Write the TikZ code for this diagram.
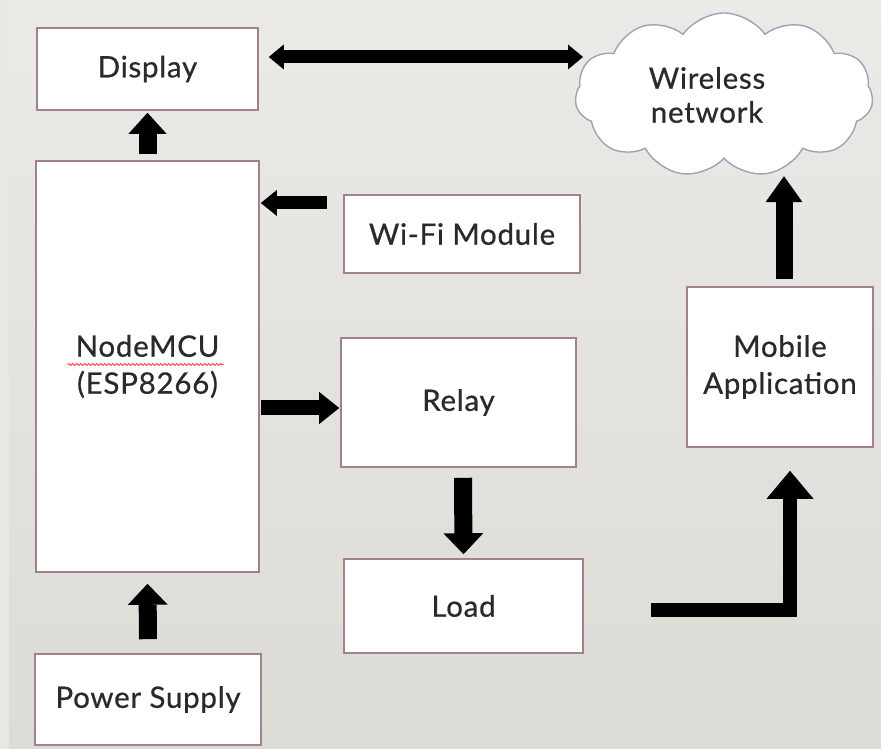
\documentclass[tikz,border=0pt]{standalone}
\usepackage{fontspec}
\setmainfont{Lato}
\newfontfamily\boxfont{Lato}[FakeBold=0.6,LetterSpace=2.5]
\usetikzlibrary{arrows.meta,shapes.symbols,decorations.pathmorphing}
\definecolor{bgtop}{HTML}{EBEAE7}
\definecolor{bgbot}{HTML}{DCDBD6}
\definecolor{bgstrip}{HTML}{E8E7E4}
\definecolor{boxline}{HTML}{A3808A}
\definecolor{cloudline}{HTML}{9EA2B4}
\definecolor{txt}{HTML}{2A2A2A}
\tikzset{
  box/.style={draw=boxline,line width=1.6pt,fill=white,text=txt,
    font=\boxfont\fontsize{29.5}{37}\selectfont,align=center,inner sep=0pt},
  fat/.style args={#1/#2/#3}{draw=black,line width=#1,line join=miter,
    -{Triangle[width=#2,length=#3,line width=0pt]}},
  fatboth/.style args={#1/#2/#3}{draw=black,line width=#1,
    {Triangle[width=#2,length=#3,line width=0pt]}-{Triangle[width=#2,length=#3,line width=0pt]}},
}
\begin{document}
\begin{tikzpicture}[x=1pt,y=1pt]
\useasboundingbox (0,0) rectangle (881,749);
\fill[top color=bgtop,bottom color=bgbot] (0,0) rectangle (881,749);
\fill[bgstrip] (0,0) rectangle (9,749);

% boxes
\node[box,minimum width=221pt,minimum height=82pt] (disp) at (147.5,680) {Display};
\node[box,minimum width=223pt,minimum height=411pt] (mcu) at (147.5,382.5) {NodeMCU\\(ESP8266)};
\node[box,minimum width=226pt,minimum height=91pt] (power) at (148,49.5) {Power Supply};
\node[box,minimum width=236pt,minimum height=78pt] (wifi) at (462,515) {Wi-Fi Module};
\node[box,minimum width=235pt,minimum height=129pt] (relay) at (458.5,346.5) {Relay};
\node[box,minimum width=239pt,minimum height=94pt] (load) at (463.5,143) {Load};
\node[box,minimum width=186pt,minimum height=160pt] (mobile) at (780,382) {Mobile\\Application};

% cloud
\node[cloud,draw=cloudline,line width=1.4pt,fill=white,cloud puffs=11,cloud puff arc=110,
      aspect=1.9,minimum width=298pt,minimum height=164pt,inner sep=0pt] (cloud) at (724,654) {};
\node[text=txt,font=\boxfont\fontsize{29.5}{34}\selectfont,align=center] (cloudtxt) at (707,654) {Wireless\\network};

% spell-check squiggle
\draw[red!75!white,line width=0.9pt,decorate,decoration={snake,amplitude=0.9pt,segment length=4pt}]
  ([shift={(-80pt,2pt)}]mcu.center) -- ([shift={(76pt,2pt)}]mcu.center);

% connectors
\draw[fat=18pt/38pt/21pt] ([yshift=6pt]mcu.north) -- ([yshift=-2pt]disp.south);
\coordinate (dblR) at (583,692);
\draw[fatboth=13pt/25pt/15pt] ([shift={(10pt,12pt)}]disp.east) -- (dblR);
\draw[fat=13pt/26pt/16pt] ([shift={(-16pt,31pt)}]wifi.west) coordinate (wa) -- ([xshift=1pt]wa -| mcu.east);
\draw[fat=15pt/32pt/20pt] ([xshift=1pt]mcu.east |- 0,341) -- ([shift={(-1pt,-5.5pt)}]relay.west);
\draw[fat=18pt/40pt/21pt] ([shift={(4.5pt,-10pt)}]relay.south) -- ([yshift=4pt]load.north);
\draw[fat=18pt/40pt/21pt] ([yshift=14pt]power.north) -- ([yshift=-11pt]mcu.south);
\draw[fat=14pt/47pt/28pt] ([shift={(67pt,-4pt)}]load.east) -| ([shift={(10pt,-23pt)}]mobile.south);
\draw[fat=17pt/37pt/26pt] ([shift={(4pt,7pt)}]mobile.north) -- ([shift={(4pt,110pt)}]mobile.north);
\end{tikzpicture}
\end{document}
